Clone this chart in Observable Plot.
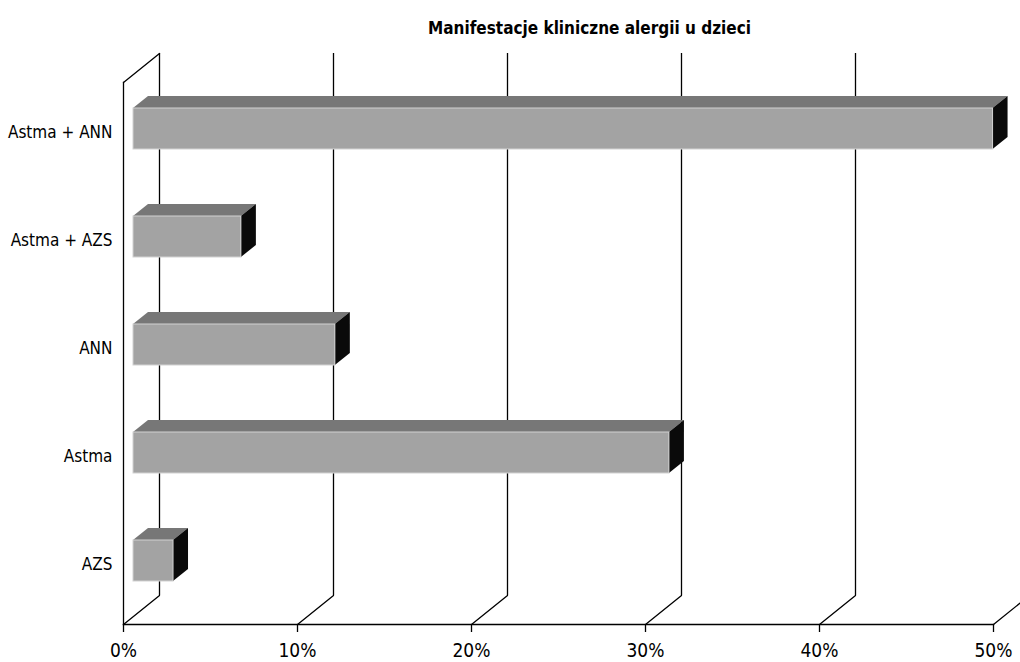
<!DOCTYPE html>
<html>
<head>
<meta charset="utf-8">
<script src="https://cdn.jsdelivr.net/npm/d3@7"></script>
<script src="https://cdn.jsdelivr.net/npm/@observablehq/plot@0.6"></script>
<style>
  html, body { margin: 0; padding: 0; background: #fff; }
  #chart svg { display: block; font-stretch: condensed; }
</style>
</head>
<body>
<div id="chart"></div>
<script>
// Clinical manifestations of allergy in children (share of patients, %)
const title = "Manifestacje kliniczne alergii u dzieci";
const categories = ["Astma + ANN", "Astma + AZS", "ANN", "Astma", "AZS"];
const shares = [49.4, 6.2, 11.6, 30.8, 2.3];
const xTicks = [0, 10, 20, 30, 40, 50];

const data = categories.map((category, i) => ({category, share: shares[i]}));

// Oblique "3D" geometry in pixels
const WALL_DX = 36, WALL_DY = -29;   // depth of the back wall
const BAR_DX = 10, BAR_DY = -8;      // bar front face offset into the depth
const BAR_DEPTH_X = 15, BAR_DEPTH_Y = -12; // bar thickness in depth

const lineColor = "#000";
const topColor = "#777777", sideColor = "#0a0a0a", frontColor = "#a3a3a3";
const fontFamily = '"Liberation Sans Narrow", "DejaVu Sans Condensed", "DejaVu Sans", sans-serif';

// straight line shape for the vector mark
const straight = {
  draw(context, l) {
    context.moveTo(0, 0);
    context.lineTo(0, -l);
  }
};
const depthLength = Math.hypot(WALL_DX, WALL_DY);
const depthAngle = Math.atan2(WALL_DX, -WALL_DY) * 180 / Math.PI;

const svg = Plot.plot({
  width: 1020,
  height: 662,
  marginLeft: 123,
  marginRight: 27,
  marginTop: 82,
  marginBottom: 38,
  style: {fontFamily, background: "#fff", color: "#000", fontStretch: "condensed"},
  x: {domain: [0, 50]},
  y: {domain: categories, paddingInner: 0.62, paddingOuter: 0.31},
  marks: [
    // back wall gridlines
    Plot.tickX(xTicks, {x: d => d, dx: WALL_DX, dy: WALL_DY, stroke: lineColor, strokeWidth: 1.3}),
    // floor depth lines at each tick
    Plot.vector(xTicks, {x: d => d, frameAnchor: "bottom", length: depthLength, rotate: depthAngle,
      anchor: "start", shape: straight, fill: "none", stroke: lineColor, strokeWidth: 1.3}),
    // top edge of the left wall
    Plot.vector([0], {x: d => d, frameAnchor: "top", length: depthLength, rotate: depthAngle,
      anchor: "start", shape: straight, fill: "none", stroke: lineColor, strokeWidth: 1.3}),
    // front edges of the left wall and floor
    Plot.frame({anchor: "left", stroke: lineColor, strokeWidth: 1.3}),
    Plot.frame({anchor: "bottom", stroke: lineColor, strokeWidth: 1.3}),
    // bar faces: top, side, front
    Plot.barX(data, {x: "share", y: "category", dx: BAR_DX, dy: BAR_DY, fill: topColor,
      className: "face-top"}),
    Plot.barX(data, {x: "share", y: "category", dx: BAR_DX, dy: BAR_DY, fill: sideColor,
      className: "face-side"}),
    Plot.barX(data, {x: "share", y: "category", dx: BAR_DX, dy: BAR_DY, fill: frontColor,
      stroke: "#d2d2d2", strokeWidth: 1}),
    Plot.axisX({ticks: xTicks, tickFormat: d => d + "%", tickSize: 8, tickPadding: 11,
      fontSize: 19, label: null, stroke: lineColor, strokeWidth: 1.3}),
    Plot.axisY({tickSize: 0, tickPadding: 11, dy: -4, fontSize: 17, label: null}),
    Plot.text([title], {text: d => d, frameAnchor: "top", dx: 31, dy: -61,
      fontWeight: "bold", fontSize: 17})
  ]
});

// turn the extra bar rectangles into oblique top and side faces
function faceGroup(fill, cls) {
  return Array.from(svg.querySelectorAll("g")).find(g =>
    (g.getAttribute("class") || "").split(/\s+/).includes(cls) ||
    (g.getAttribute("fill") || "").toLowerCase() === fill);
}
const topGroup = faceGroup(topColor, "face-top");
const sideGroup = faceGroup(sideColor, "face-side");

if (topGroup) {
  Array.from(topGroup.querySelectorAll("rect")).forEach(rect => {
    const x = +rect.getAttribute("x"), y = +rect.getAttribute("y"), w = +rect.getAttribute("width");
    d3.select(rect.parentNode).append("path")
      .attr("fill", topColor)
      .attr("d", `M${x},${y}L${x + w},${y}L${x + w + BAR_DEPTH_X},${y + BAR_DEPTH_Y}L${x + BAR_DEPTH_X},${y + BAR_DEPTH_Y}Z`);
    rect.remove();
  });
}
if (sideGroup) {
  Array.from(sideGroup.querySelectorAll("rect")).forEach(rect => {
    const x = +rect.getAttribute("x"), y = +rect.getAttribute("y");
    const w = +rect.getAttribute("width"), h = +rect.getAttribute("height");
    d3.select(rect.parentNode).append("path")
      .attr("fill", sideColor)
      .attr("d", `M${x + w},${y}L${x + w + BAR_DEPTH_X},${y + BAR_DEPTH_Y}L${x + w + BAR_DEPTH_X},${y + h + BAR_DEPTH_Y}L${x + w},${y + h}Z`);
    rect.remove();
  });
}

document.getElementById("chart").appendChild(svg);
</script>
</body>
</html>
